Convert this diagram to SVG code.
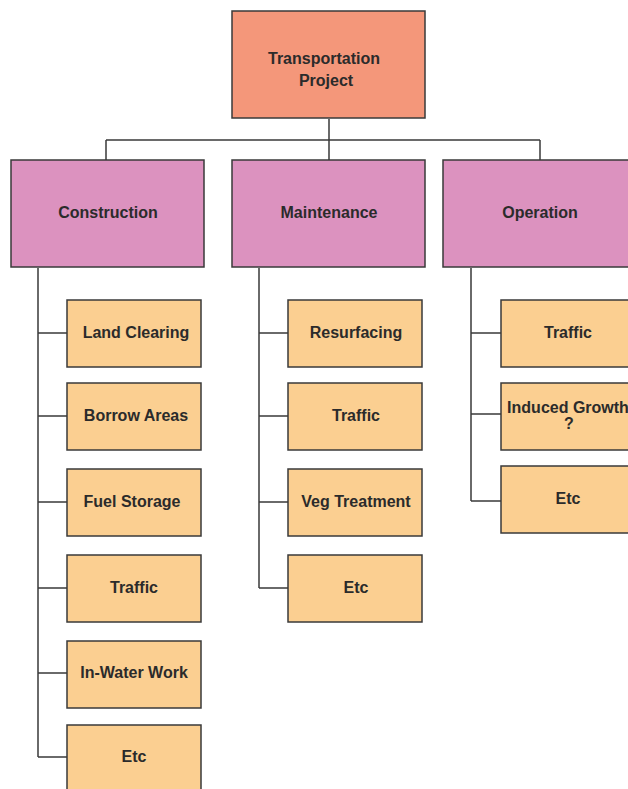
<svg xmlns="http://www.w3.org/2000/svg" width="628" height="789" viewBox="0 0 628 789">
<style>
rect{stroke:#3a3a3a;stroke-width:1.5}
.root{fill:#F4977A}
.cat{fill:#DC92BF}
.item{fill:#FBCF91}
text{font-family:"Liberation Sans",Arial,sans-serif;font-weight:bold;font-size:16px;fill:#2b2b2b;text-anchor:middle}
#connectors{fill:none;stroke:#3a3a3a;stroke-width:1.5}
</style>
<rect x="0" y="0" width="628" height="789" fill="#fff" style="stroke:none"/>
<g id="connectors">
<path d="M329 119V140M106 140H540M106 140V160M329 140V160M540 140V160"/>
<path d="M38 268V757M38 333H67M38 416H67M38 502H67M38 588H67M38 673H67M38 757H67"/>
<path d="M259 268V588M259 333H288M259 416H288M259 502H288M259 588H288"/>
<path d="M471 268V501M471 333H501M471 414H501M471 501H501"/>
</g>
<g id="root"><rect class="root" x="232" y="11" width="193" height="107"/><text x="324" y="64">Transportation</text><text x="326" y="86">Project</text></g>
<g id="construction"><rect class="cat" x="11" y="160" width="193" height="107"/><text x="108" y="218">Construction</text></g>
<g id="maintenance"><rect class="cat" x="232" y="160" width="193" height="107"/><text x="329" y="218">Maintenance</text></g>
<g id="operation"><rect class="cat" x="443" y="160" width="193" height="107"/><text x="540" y="218">Operation</text></g>
<g id="c1"><rect class="item" x="67" y="300" width="134" height="67"/><text x="136" y="338">Land Clearing</text></g>
<g id="c2"><rect class="item" x="67" y="383" width="134" height="67"/><text x="136" y="421">Borrow Areas</text></g>
<g id="c3"><rect class="item" x="67" y="469" width="134" height="67"/><text x="132" y="507">Fuel Storage</text></g>
<g id="c4"><rect class="item" x="67" y="555" width="134" height="67"/><text x="134" y="593">Traffic</text></g>
<g id="c5"><rect class="item" x="67" y="641" width="134" height="67"/><text x="134" y="678">In-Water Work</text></g>
<g id="c6"><rect class="item" x="67" y="725" width="134" height="70"/><text x="134" y="762">Etc</text></g>
<g id="m1"><rect class="item" x="288" y="300" width="134" height="67"/><text x="356" y="338">Resurfacing</text></g>
<g id="m2"><rect class="item" x="288" y="383" width="134" height="67"/><text x="356" y="421">Traffic</text></g>
<g id="m3"><rect class="item" x="288" y="469" width="134" height="67"/><text x="356" y="507">Veg Treatment</text></g>
<g id="m4"><rect class="item" x="288" y="555" width="134" height="67"/><text x="356" y="593">Etc</text></g>
<g id="o1"><rect class="item" x="501" y="300" width="134" height="67"/><text x="568" y="338">Traffic</text></g>
<g id="o2"><rect class="item" x="501" y="383" width="134" height="67"/><text x="568" y="413">Induced Growth</text><text x="569" y="429">?</text></g>
<g id="o3"><rect class="item" x="501" y="466" width="134" height="67"/><text x="568" y="504">Etc</text></g>
</svg>
